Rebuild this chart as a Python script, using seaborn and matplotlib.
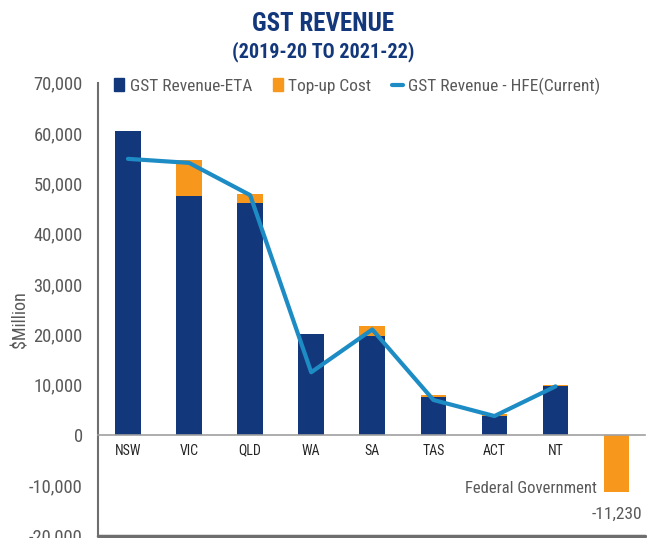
import matplotlib
matplotlib.use("Agg")
import matplotlib.pyplot as plt
import seaborn as sns
import numpy as np
import pandas as pd
from matplotlib.patches import Patch
from matplotlib.lines import Line2D

# chart data ($Million)
states = ['NSW', 'VIC', 'QLD', 'WA', 'SA', 'TAS', 'ACT', 'NT', 'Federal Government']
gst_eta = [60400, 47500, 46100, 20100, 19700, 7500, 3800, 9700, 0]
topup_cost = [0, 7200, 1800, 0, 2000, 400, 400, 200, -11230]
gst_hfe = [54900, 54100, 47700, 12500, 21000, 7000, 3800, 9700]

navy = '#13377b'
orange = '#f7981d'
lineblue = '#1d8cc4'
grey = '#595959'

sns.set_style("white")
plt.rcParams['font.family'] = ['Roboto Condensed', 'Liberation Sans Narrow', 'Roboto', 'DejaVu Sans']

df = pd.DataFrame({'state': states, 'eta': gst_eta, 'topup': topup_cost})
df['total'] = df['eta'] + df['topup']

fig = plt.figure(figsize=(6.47, 5.38), dpi=100)
ax = fig.add_axes([0.1515, 0.004, 0.845, 0.842])

# orange = full stack, navy drawn over it
sns.barplot(data=df, x='state', y='total', color=orange, width=0.42, saturation=1, linewidth=0, ax=ax)
sns.barplot(data=df, x='state', y='eta', color=navy, width=0.42, saturation=1, linewidth=0, ax=ax)
ax.plot(np.arange(len(gst_hfe)), gst_hfe, color=lineblue, lw=3, solid_capstyle='round')

ax.set_ylim(-20000, 70000)
ax.set_xlim(-0.49, len(states) - 0.54)
ax.set_yticks(range(-20000, 70001, 10000))
ax.set_yticklabels([f'{v:,}' for v in range(-20000, 70001, 10000)], fontsize=13.3, color=grey)
ax.set_xticks(range(len(states)))
ax.set_xticklabels(states[:-1] + [''], fontsize=13.3, color=grey)
ax.tick_params(axis='y', length=0, pad=11)
ax.tick_params(axis='x', length=0, pad=6)
ax.set_xlabel('')
ax.set_ylabel('$Million', fontsize=13, color=grey)
ax.yaxis.set_label_coords(-0.125, 0.477)

# category axis sits on zero, frame line at the bottom
for s in ['top', 'right']:
    ax.spines[s].set_visible(False)
ax.spines['bottom'].set_position(('data', 0))
ax.spines['bottom'].set_color('#a0a0a0')
ax.spines['bottom'].set_linewidth(1.2)
ax.spines['left'].set_color('#6e6e6e')
ax.spines['left'].set_linewidth(1.5)
ax.axhline(-20000, color='#6e6e6e', lw=2.5, clip_on=False)

fed = len(states) - 1
ax.text(fed - 0.32, -10600, 'Federal Government', ha='right', va='center', fontsize=12, color=grey)
ax.text(fed, topup_cost[-1] - 4500, f'{topup_cost[-1]:,}', ha='center', va='center', fontsize=12.5, color=grey)

# titles
fig.text(0.5, 0.943, 'GST REVENUE', ha='center', va='baseline', fontsize=18, fontweight='bold', color=navy)
fig.text(0.5, 0.894, '(2019-20 TO 2021-22)', ha='center', va='baseline', fontsize=14.5, fontweight='bold', color=navy)

handles = [Patch(color=navy), Patch(color=orange), Line2D([0], [0], color=lineblue, lw=3)]
labels = ['GST Revenue-ETA', 'Top-up Cost', 'GST Revenue - HFE(Current)']
fig.legend(handles, labels, loc='center left', bbox_to_anchor=(0.152, 0.84), ncol=3, frameon=False,
           fontsize=12.5, handlelength=0.6, handleheight=0.8, handletextpad=0.3, columnspacing=1.2,
           labelcolor=grey)

fig.savefig('out.png', dpi=100)
